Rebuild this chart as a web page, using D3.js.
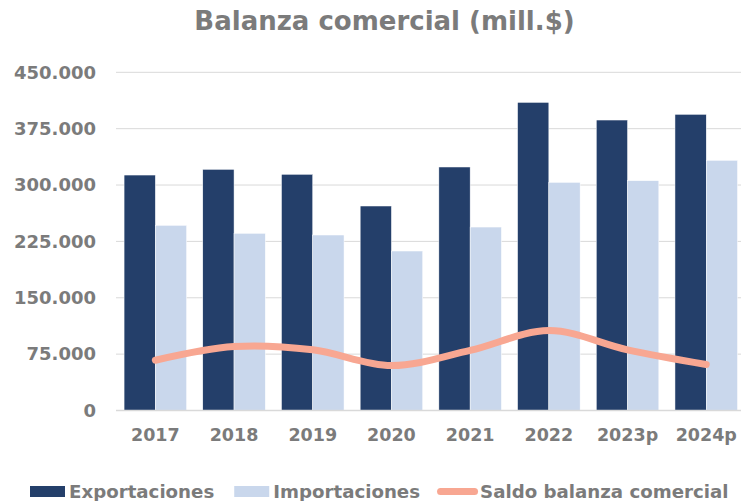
<!DOCTYPE html>
<html>
<head>
<meta charset="utf-8">
<script src="https://cdn.jsdelivr.net/npm/d3@7"></script>
<style>
  body { margin: 0; background: #fff; }
  svg { display: block; font-family: "DejaVu Sans", sans-serif; font-weight: bold; }
</style>
</head>
<body>
<div id="chart"></div>
<script>
// datos
const years = ["2017", "2018", "2019", "2020", "2021", "2022", "2023p", "2024p"]
const exportaciones = [313300, 320900, 314300, 272100, 324000, 410000, 386500, 394100]
const importaciones = [246400, 235800, 233500, 212200, 244100, 303600, 305800, 332900]
const saldo = [66900, 85100, 80800, 59900, 79900, 106400, 80700, 61200]
const yTicks = [0, 75000, 150000, 225000, 300000, 375000, 450000]
const seriesNames = ["Exportaciones", "Importaciones", "Saldo balanza comercial"]

const width = 741
const height = 501
const colExp = "#243f6a"
const colImp = "#c9d7ec"
const colSaldo = "#f8a792"
const grey = "#7b7b7b"

const fmt = d3.formatLocale({decimal: ",", thousands: ".", grouping: [3], currency: ["", ""]}).format(",d")

let svg = d3.select("#chart")
    .append("svg")
    .attr("width", width)
    .attr("height", height)

// escalas
const x = d3.scaleBand()
    .domain(years)
    .range([116, 745.6])
    .paddingInner(0.205)
    .paddingOuter(0.1025)

const xs = d3.scaleBand()
    .domain(["exp", "imp"])
    .range([0, x.bandwidth()])

const y = d3.scaleLinear()
    .domain([0, 450000])
    .range([410.5, 72.3])

// título
svg.append("text")
    .attr("x", 384.5)
    .attr("y", 30)
    .attr("text-anchor", "middle")
    .attr("fill", grey)
    .attr("font-size", 26)
    .text("Balanza comercial (mill.$)")

// rejilla
svg.append("g")
    .selectAll("line")
    .data(yTicks.filter(d => d > 0))
    .enter().append("line")
    .attr("x1", 116)
    .attr("x2", width)
    .attr("y1", d => y(d))
    .attr("y2", d => y(d))
    .attr("stroke", "#d9d9d9")
    .attr("stroke-width", 1)

// eje y
const yAxis = svg.append("g")
    .attr("transform", "translate(96,0)")
    .call(d3.axisLeft(y).tickValues(yTicks).tickFormat(fmt).tickSize(0).tickPadding(0))
yAxis.select(".domain").remove()
yAxis.selectAll("text")
    .attr("fill", grey)
    .attr("font-size", 18)
    .attr("font-family", "DejaVu Sans, sans-serif")
    .attr("font-weight", "bold")

// barras
const groups = svg.append("g")
    .selectAll("g")
    .data(years)
    .enter().append("g")
    .attr("transform", d => `translate(${x(d)},0)`)

groups.append("rect")
    .attr("x", xs("exp"))
    .attr("width", xs.bandwidth())
    .attr("y", (d, i) => y(exportaciones[i]))
    .attr("height", (d, i) => y(0) - y(exportaciones[i]))
    .attr("fill", colExp)
    .attr("stroke", "#fff")
    .attr("stroke-width", 0.5)

groups.append("rect")
    .attr("x", xs("imp"))
    .attr("width", xs.bandwidth())
    .attr("y", (d, i) => y(importaciones[i]))
    .attr("height", (d, i) => y(0) - y(importaciones[i]))
    .attr("fill", colImp)
    .attr("stroke", "#fff")
    .attr("stroke-width", 0.5)

// línea base
svg.append("line")
    .attr("x1", 116)
    .attr("x2", width)
    .attr("y1", y(0))
    .attr("y2", y(0))
    .attr("stroke", "#d9d9d9")
    .attr("stroke-width", 1.5)

// saldo
const line = d3.line()
    .x((d, i) => x(years[i]) + x.bandwidth() / 2)
    .y(d => y(d))
    .curve(d3.curveCardinal.tension(0))

svg.append("path")
    .datum(saldo)
    .attr("d", line)
    .attr("fill", "none")
    .attr("stroke", colSaldo)
    .attr("stroke-width", 7)
    .attr("stroke-linecap", "round")

// eje x
const xAxis = svg.append("g")
    .attr("transform", "translate(0,410.5)")
    .call(d3.axisBottom(x).tickSize(0).tickPadding(18))
xAxis.select(".domain").remove()
xAxis.selectAll("text")
    .attr("fill", grey)
    .attr("font-size", 17.5)
    .attr("font-family", "DejaVu Sans, sans-serif")
    .attr("font-weight", "bold")

// leyenda
const legend = svg.append("g")
let lx = 30
const ly = 491.5
seriesNames.forEach(function(name, i) {
    if (i < 2) {
        legend.append("rect")
            .attr("x", lx)
            .attr("y", ly - 5.5)
            .attr("width", 35)
            .attr("height", 11)
            .attr("fill", i === 0 ? colExp : colImp)
        lx += 39
    } else {
        legend.append("line")
            .attr("x1", lx + 3.5)
            .attr("x2", lx + 37.5)
            .attr("y1", ly)
            .attr("y2", ly)
            .attr("stroke", colSaldo)
            .attr("stroke-width", 7)
            .attr("stroke-linecap", "round")
        lx += 43
    }
    const t = legend.append("text")
        .attr("x", lx)
        .attr("y", ly + 6.5)
        .attr("fill", grey)
        .attr("font-size", 18.2)
        .text(name)
    lx += t.node().getComputedTextLength() + (i === 0 ? 20 : 17)
})
</script>
</body>
</html>
